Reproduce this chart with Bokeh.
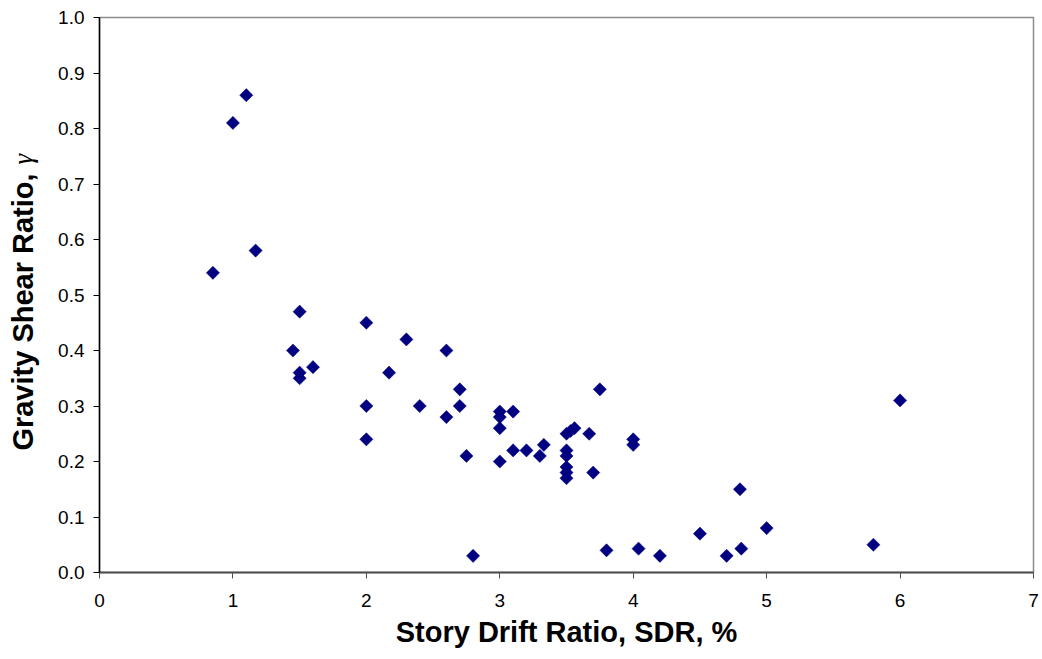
import math
from bokeh.plotting import figure
from bokeh.layouts import row
from bokeh.models import Range1d, FixedTicker, PrintfTickFormatter, Label, ColumnDataSource
from bokeh.embed import file_html
from bokeh.resources import INLINE

# Story drift ratio (%) and gravity shear ratio (gamma)
sdr = [0.85, 1.0, 1.1, 1.17, 1.45, 1.5, 1.5, 1.5, 1.6,
       2.0, 2.0, 2.0, 2.17, 2.3, 2.4, 2.6, 2.6, 2.7, 2.7, 2.75, 2.8,
       3.0, 3.0, 3.0, 3.0, 3.1, 3.1, 3.2, 3.3, 3.33,
       3.5, 3.53, 3.5, 3.5, 3.5, 3.5, 3.5, 3.56, 3.67, 3.7, 3.75, 3.8,
       4.0, 4.0, 4.04, 4.2, 4.5, 4.7, 4.8, 4.81, 5.0, 5.8, 6.0]
gamma = [0.54, 0.81, 0.86, 0.58, 0.40, 0.47, 0.36, 0.35, 0.37,
         0.45, 0.30, 0.24, 0.36, 0.42, 0.30, 0.40, 0.28, 0.33, 0.30, 0.21, 0.03,
         0.29, 0.28, 0.26, 0.20, 0.29, 0.22, 0.22, 0.21, 0.23,
         0.25, 0.255, 0.22, 0.21, 0.19, 0.18, 0.17, 0.26, 0.25, 0.18, 0.33, 0.04,
         0.24, 0.23, 0.043, 0.03, 0.07, 0.03, 0.15, 0.043, 0.08, 0.05, 0.31]

x_ticks = [0, 1, 2, 3, 4, 5, 6, 7]
y_ticks = [0.0, 0.1, 0.2, 0.3, 0.4, 0.5, 0.6, 0.7, 0.8, 0.9, 1.0]

FONT = "Liberation Sans"
LEFT_W = 55
H = 659
TOP, BOTTOM = 17, 87
FRAME_BOTTOM = H - BOTTOM  # 572

# narrow strip on the left that carries the y-axis title (bold sans text + italic serif gamma)
t = figure(width=LEFT_W, height=H, output_backend="svg", toolbar_location=None,
           x_axis_location=None, y_axis_location=None,
           x_range=Range1d(0, LEFT_W), y_range=Range1d(0, H - TOP - BOTTOM),
           min_border_left=0, min_border_right=0,
           min_border_top=TOP, min_border_bottom=BOTTOM)
t.outline_line_color = None
t.grid.visible = False
t.background_fill_color = "white"
t.border_fill_color = "white"
t.add_layout(Label(x=22, y=FRAME_BOTTOM - 311.5, x_units="screen", y_units="screen",
                   text="Gravity Shear Ratio,", angle=math.pi / 2,
                   text_align="center", text_baseline="alphabetic",
                   text_font=FONT, text_font_size="29px", text_font_style="bold",
                   text_color="black"))
t.add_layout(Label(x=22, y=FRAME_BOTTOM - 164, x_units="screen", y_units="screen",
                   text="\u03b3", angle=math.pi / 2,
                   text_align="left", text_baseline="alphabetic",
                   text_font="Liberation Serif", text_font_size="27px",
                   text_font_style="italic", text_color="black"))

p = figure(width=1042 - LEFT_W, height=H, output_backend="svg", toolbar_location=None,
           x_range=Range1d(0, 7), y_range=Range1d(0, 1),
           min_border_left=99 - LEFT_W, min_border_right=9,
           min_border_top=TOP, min_border_bottom=BOTTOM)
p.background_fill_color = "white"
p.border_fill_color = "white"
p.outline_line_color = "#8c8c8c"
p.outline_line_width = 1.5
p.xgrid.grid_line_color = None
p.ygrid.grid_line_color = None

src = ColumnDataSource(dict(x=sdr, y=gamma))
p.scatter("x", "y", source=src, marker="square", angle=math.pi / 4, size=9.3,
          fill_color="#000080", line_color="#000080", line_width=0.5)

p.xaxis.ticker = FixedTicker(ticks=x_ticks)
p.yaxis.ticker = FixedTicker(ticks=y_ticks)
p.yaxis.formatter = PrintfTickFormatter(format="%.1f")
for ax in (p.xaxis[0], p.yaxis[0]):
    ax.major_label_text_font = FONT
    ax.major_label_text_font_size = "19px"
    ax.major_label_text_color = "black"
    ax.minor_tick_line_color = None
    ax.major_tick_in = 0
    ax.major_tick_out = 6
    ax.major_tick_line_width = 1
p.xaxis.axis_line_color = "#505050"
p.xaxis.axis_line_width = 2
p.xaxis.major_tick_line_color = "#505050"
p.yaxis.axis_line_color = "black"
p.yaxis.axis_line_width = 1.5
p.yaxis.major_tick_line_color = "black"
p.xaxis.major_label_standoff = 15
p.yaxis.major_label_standoff = 9

p.xaxis.axis_label = "Story Drift Ratio, SDR, %"
p.xaxis.axis_label_text_font = FONT
p.xaxis.axis_label_text_font_size = "29px"
p.xaxis.axis_label_text_font_style = "bold"
p.xaxis.axis_label_text_color = "black"
p.xaxis.axis_label_standoff = 6

layout = row(t, p, spacing=0)
open("out.html", "w").write(file_html(layout, INLINE))
